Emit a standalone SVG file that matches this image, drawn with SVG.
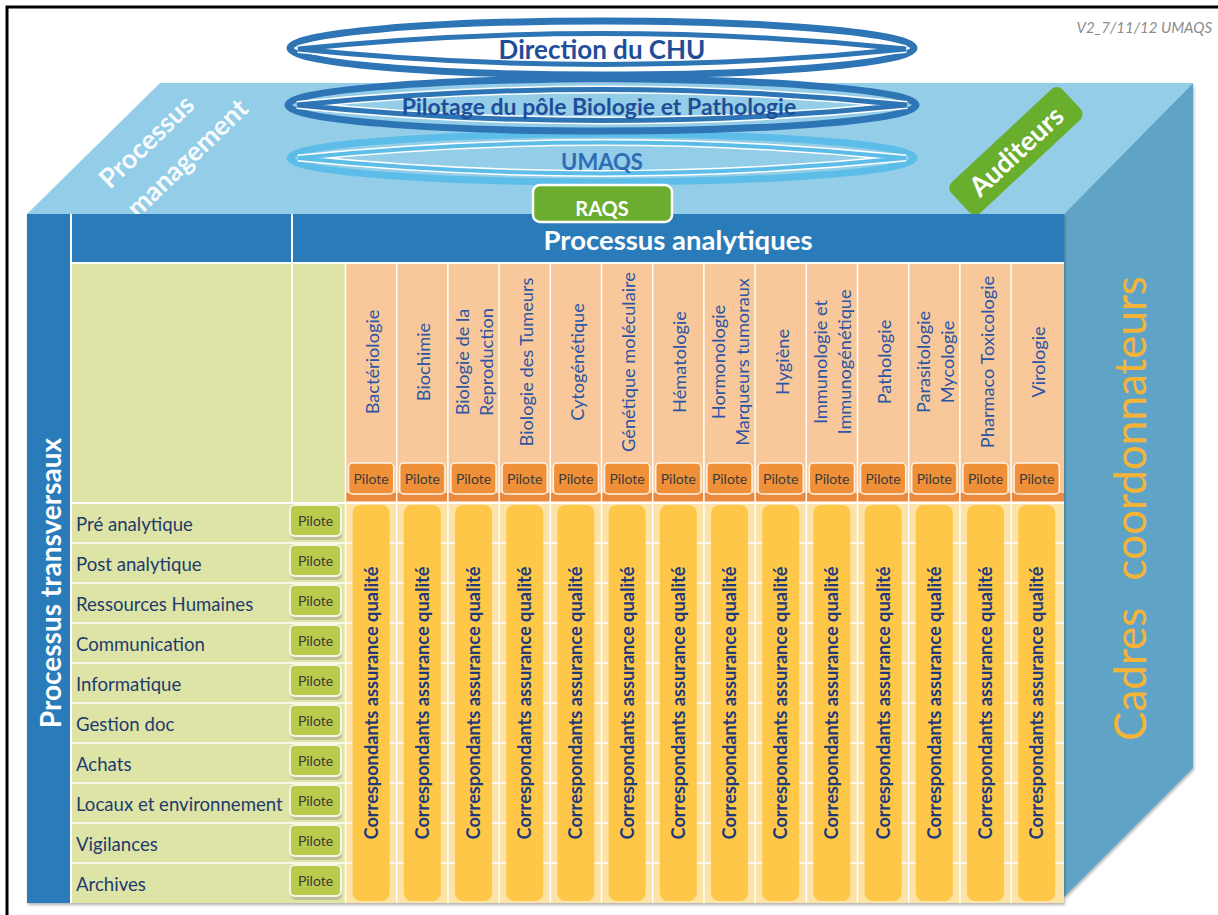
<svg xmlns="http://www.w3.org/2000/svg" width="1218" height="915" viewBox="0 0 1218 915">
<defs>
<style>
text{font-family:Lato,"Open Sans","Liberation Sans",sans-serif}
.frame{stroke:#000;stroke-width:3;fill:none}
.ringD{fill:none;stroke:#2E75B6}
.ringL{fill:none;stroke:#5DBDE9}
.inner{fill:none;stroke:#fff}
.ell{font-weight:bold;fill:#1F4E98;text-anchor:middle}
.hdr{fill:#2A7BBA}
.wl{stroke:#fff;stroke-width:2}
.wl1{stroke:#fff;stroke-width:1.5}
.row{font-size:18.6px;fill:#1F3B6C}
.gp{fill:#BACA4A;stroke:#F6F5E6;stroke-width:2}
.gps{fill:#A9A08A;opacity:.55}
.op{fill:#F0913A;stroke:#FFF3E6;stroke-width:1.5}
.pl{font-size:14px;fill:#3A3A3A;text-anchor:middle}
.col{font-size:18.2px;fill:#2B55A5;text-anchor:middle}
.yc{fill:#FFC748}
.cq{font-size:18.2px;font-weight:bold;fill:#1E3A7B;text-anchor:middle}
</style>
<linearGradient id="ellFill" x1="0" y1="0" x2="0" y2="1">
<stop offset="0" stop-color="#CFE5F3"/><stop offset="0.5" stop-color="#E3F0F9"/><stop offset="1" stop-color="#CFE5F3"/>
</linearGradient>
<filter id="sh" x="-5%" y="-5%" width="110%" height="115%">
<feDropShadow dx="1" dy="2" stdDeviation="1.5" flood-color="#000" flood-opacity="0.3"/>
</filter>
</defs>

<rect width="1218" height="915" fill="#fff"/>
<path class="frame" d="M7,915 V7 H1218"/>

<text x="1212" y="33" font-size="15" font-style="italic" fill="#8C8C8C" text-anchor="end">V2_7/11/12 UMAQS</text>

<!-- cube faces -->
<g id="cube">
<polygon points="27,214 160,83 1193,83 1064,214" fill="#93CDE7"/>
<polygon points="1064,214 1193,83 1193,768 1064,897" fill="#5FA4C6" filter="url(#sh)"/>
<rect x="27" y="214" width="1037" height="689" fill="#fff" filter="url(#sh)"/>
</g>

<!-- management ellipses -->
<g id="umaqs">
<ellipse cx="602" cy="158" rx="312" ry="24" fill="url(#ellFill)" class="ringL" stroke-width="7"/>
<path d="M298,158 A3000 3000 0 0 1 906,158 A3000 3000 0 0 1 298,158 Z" class="inner" stroke-width="7"/>
<path d="M298,158 A3000 3000 0 0 1 906,158 A3000 3000 0 0 1 298,158 Z" class="ringL" stroke-width="4"/>
<text x="602" y="170" font-size="22" class="ell" style="fill:#2E6DB5">UMAQS</text>
</g>
<g id="pilotage">
<ellipse cx="602" cy="105" rx="314" ry="26" fill="url(#ellFill)" class="ringD" stroke-width="7"/>
<path d="M297,105 A3000 3000 0 0 1 907,105 A3000 3000 0 0 1 297,105 Z" class="inner" stroke-width="8"/>
<path d="M297,105 A3000 3000 0 0 1 907,105 A3000 3000 0 0 1 297,105 Z" class="ringD" stroke-width="5"/>
<text x="599" y="115" font-size="23" class="ell">Pilotage du pôle Biologie et Pathologie</text>
</g>
<g id="direction">
<ellipse cx="602" cy="48" rx="312" ry="27" fill="url(#ellFill)" class="ringD" stroke-width="7"/>
<path d="M298,49 A3000 3000 0 0 1 906,49 A3000 3000 0 0 1 298,49 Z" class="inner" stroke-width="8"/>
<path d="M298,49 A3000 3000 0 0 1 906,49 A3000 3000 0 0 1 298,49 Z" class="ringD" stroke-width="5"/>
<text x="602" y="59" font-size="26" class="ell">Direction du CHU</text>
</g>

<g id="processus-management" transform="translate(110,190) rotate(-44)">
<text x="0" y="0" font-size="27" font-weight="bold" fill="#fff" fill-opacity="0.95">Processus</text>
<text x="0" y="40" font-size="27" font-weight="bold" fill="#fff" fill-opacity="0.95">management</text>
</g>

<g id="auditeurs" transform="translate(1016,151) rotate(-43)">
<rect x="-76" y="-21" width="152" height="42" rx="8" fill="#6AAE2D"/>
<text x="0" y="10" font-size="27" font-weight="bold" fill="#fff" text-anchor="middle">Auditeurs</text>
</g>

<g id="cadres">
<text transform="translate(1146,741) rotate(-90)" font-size="44" fill="#F5B437">Cadres <tspan dx="16">coordonnateurs</tspan></text>
</g>

<!-- front grid -->
<g id="front">
<rect x="27" y="214" width="1037" height="49" class="hdr"/>
<rect x="27" y="214" width="44" height="689" class="hdr"/>
<rect x="72" y="264" width="273" height="639" fill="#DDE4A6"/>
<rect x="345" y="264" width="719" height="239" fill="#F8C89B"/>
<rect x="345" y="503" width="719" height="400" fill="#FDE3A8"/>
<rect x="345" y="493" width="719" height="8" fill="#E98A3E"/>
<line class="wl" x1="71" y1="214" x2="71" y2="903"/>
<line class="wl" x1="292" y1="214" x2="292" y2="503"/>
<line class="wl" x1="71" y1="263" x2="1064" y2="263"/>
<line class="wl" x1="72" y1="503" x2="1064" y2="503"/>
<g class="wl1">
<line x1="72" y1="543" x2="1064" y2="543"/><line x1="72" y1="583" x2="1064" y2="583"/>
<line x1="72" y1="623" x2="1064" y2="623"/><line x1="72" y1="663" x2="1064" y2="663"/>
<line x1="72" y1="703" x2="1064" y2="703"/><line x1="72" y1="743" x2="1064" y2="743"/>
<line x1="72" y1="783" x2="1064" y2="783"/><line x1="72" y1="823" x2="1064" y2="823"/>
<line x1="72" y1="863" x2="1064" y2="863"/>
<line x1="345.5" y1="264" x2="345.5" y2="903"/><line x1="396.7" y1="264" x2="396.7" y2="903"/>
<line x1="447.9" y1="264" x2="447.9" y2="903"/><line x1="499.1" y1="264" x2="499.1" y2="903"/>
<line x1="550.3" y1="264" x2="550.3" y2="903"/><line x1="601.5" y1="264" x2="601.5" y2="903"/>
<line x1="652.7" y1="264" x2="652.7" y2="903"/><line x1="703.9" y1="264" x2="703.9" y2="903"/>
<line x1="755.1" y1="264" x2="755.1" y2="903"/><line x1="806.3" y1="264" x2="806.3" y2="903"/>
<line x1="857.5" y1="264" x2="857.5" y2="903"/><line x1="908.7" y1="264" x2="908.7" y2="903"/>
<line x1="959.9" y1="264" x2="959.9" y2="903"/><line x1="1011.1" y1="264" x2="1011.1" y2="903"/>
</g>
<text x="678" y="250" font-size="27.5" font-weight="bold" fill="#fff" text-anchor="middle">Processus analytiques</text>
<text transform="translate(61,583) rotate(-90)" font-size="28" font-weight="bold" fill="#fff" text-anchor="middle">Processus transversaux</text>
</g>

<g id="raqs">
<rect x="533" y="185" width="139" height="37" rx="7" fill="#6BAE2F" stroke="#fff" stroke-width="2.5"/>
<text x="602" y="216" font-size="20" font-weight="bold" fill="#fff" text-anchor="middle">RAQS</text>
</g>

<!-- column headers -->
<g id="col-headers">
<text class="col" transform="translate(371.1,362) rotate(-90)" y="8">Bactériologie</text>
<text class="col" transform="translate(422.3,362) rotate(-90)" y="8">Biochimie</text>
<text class="col" transform="translate(473.5,362) rotate(-90)"><tspan x="0" y="-4.5">Biologie de la</tspan><tspan x="0" y="19.5">Reproduction</tspan></text>
<text class="col" transform="translate(524.7,362) rotate(-90)" y="8">Biologie des  Tumeurs</text>
<text class="col" transform="translate(575.9,362) rotate(-90)" y="8">Cytogénétique</text>
<text class="col" transform="translate(627.1,362) rotate(-90)" y="8">Génétique moléculaire</text>
<text class="col" transform="translate(678.3,362) rotate(-90)" y="8">Hématologie</text>
<text class="col" transform="translate(729.5,362) rotate(-90)"><tspan x="0" y="-4.5">Hormonologie</tspan><tspan x="0" y="19.5">Marqueurs tumoraux</tspan></text>
<text class="col" transform="translate(780.7,362) rotate(-90)" y="8">Hygiène</text>
<text class="col" transform="translate(831.9,362) rotate(-90)"><tspan x="0" y="-4.5">Immunologie et</tspan><tspan x="0" y="19.5">Immunogénétique</tspan></text>
<text class="col" transform="translate(883.1,362) rotate(-90)" y="8">Pathologie</text>
<text class="col" transform="translate(934.3,362) rotate(-90)"><tspan x="0" y="-4.5">Parasitologie</tspan><tspan x="0" y="19.5">Mycologie</tspan></text>
<text class="col" transform="translate(985.5,362) rotate(-90)" y="8">Pharmaco Toxicologie</text>
<text class="col" transform="translate(1036.7,362) rotate(-90)" y="8">Virologie</text>
</g>

<!-- orange pilote boxes -->
<g id="col-pilotes">
<rect class="op" x="348.5" y="463" width="45.2" height="31" rx="4"/><text class="pl" x="371.1" y="484">Pilote</text>
<rect class="op" x="399.7" y="463" width="45.2" height="31" rx="4"/><text class="pl" x="422.3" y="484">Pilote</text>
<rect class="op" x="450.9" y="463" width="45.2" height="31" rx="4"/><text class="pl" x="473.5" y="484">Pilote</text>
<rect class="op" x="502.1" y="463" width="45.2" height="31" rx="4"/><text class="pl" x="524.7" y="484">Pilote</text>
<rect class="op" x="553.3" y="463" width="45.2" height="31" rx="4"/><text class="pl" x="575.9" y="484">Pilote</text>
<rect class="op" x="604.5" y="463" width="45.2" height="31" rx="4"/><text class="pl" x="627.1" y="484">Pilote</text>
<rect class="op" x="655.7" y="463" width="45.2" height="31" rx="4"/><text class="pl" x="678.3" y="484">Pilote</text>
<rect class="op" x="706.9" y="463" width="45.2" height="31" rx="4"/><text class="pl" x="729.5" y="484">Pilote</text>
<rect class="op" x="758.1" y="463" width="45.2" height="31" rx="4"/><text class="pl" x="780.7" y="484">Pilote</text>
<rect class="op" x="809.3" y="463" width="45.2" height="31" rx="4"/><text class="pl" x="831.9" y="484">Pilote</text>
<rect class="op" x="860.5" y="463" width="45.2" height="31" rx="4"/><text class="pl" x="883.1" y="484">Pilote</text>
<rect class="op" x="911.7" y="463" width="45.2" height="31" rx="4"/><text class="pl" x="934.3" y="484">Pilote</text>
<rect class="op" x="962.9" y="463" width="45.2" height="31" rx="4"/><text class="pl" x="985.5" y="484">Pilote</text>
<rect class="op" x="1014.1" y="463" width="45.2" height="31" rx="4"/><text class="pl" x="1036.7" y="484">Pilote</text>
</g>

<!-- correspondants -->
<g id="correspondants">
<rect class="yc" x="352.6" y="505" width="37" height="396" rx="8"/><text class="cq" transform="translate(371.1,703) rotate(-90)" y="6.5">Correspondants assurance qualité</text>
<rect class="yc" x="403.8" y="505" width="37" height="396" rx="8"/><text class="cq" transform="translate(422.3,703) rotate(-90)" y="6.5">Correspondants assurance qualité</text>
<rect class="yc" x="455" y="505" width="37" height="396" rx="8"/><text class="cq" transform="translate(473.5,703) rotate(-90)" y="6.5">Correspondants assurance qualité</text>
<rect class="yc" x="506.2" y="505" width="37" height="396" rx="8"/><text class="cq" transform="translate(524.7,703) rotate(-90)" y="6.5">Correspondants assurance qualité</text>
<rect class="yc" x="557.4" y="505" width="37" height="396" rx="8"/><text class="cq" transform="translate(575.9,703) rotate(-90)" y="6.5">Correspondants assurance qualité</text>
<rect class="yc" x="608.6" y="505" width="37" height="396" rx="8"/><text class="cq" transform="translate(627.1,703) rotate(-90)" y="6.5">Correspondants assurance qualité</text>
<rect class="yc" x="659.8" y="505" width="37" height="396" rx="8"/><text class="cq" transform="translate(678.3,703) rotate(-90)" y="6.5">Correspondants assurance qualité</text>
<rect class="yc" x="711" y="505" width="37" height="396" rx="8"/><text class="cq" transform="translate(729.5,703) rotate(-90)" y="6.5">Correspondants assurance qualité</text>
<rect class="yc" x="762.2" y="505" width="37" height="396" rx="8"/><text class="cq" transform="translate(780.7,703) rotate(-90)" y="6.5">Correspondants assurance qualité</text>
<rect class="yc" x="813.4" y="505" width="37" height="396" rx="8"/><text class="cq" transform="translate(831.9,703) rotate(-90)" y="6.5">Correspondants assurance qualité</text>
<rect class="yc" x="864.6" y="505" width="37" height="396" rx="8"/><text class="cq" transform="translate(883.1,703) rotate(-90)" y="6.5">Correspondants assurance qualité</text>
<rect class="yc" x="915.8" y="505" width="37" height="396" rx="8"/><text class="cq" transform="translate(934.3,703) rotate(-90)" y="6.5">Correspondants assurance qualité</text>
<rect class="yc" x="967" y="505" width="37" height="396" rx="8"/><text class="cq" transform="translate(985.5,703) rotate(-90)" y="6.5">Correspondants assurance qualité</text>
<rect class="yc" x="1018.2" y="505" width="37" height="396" rx="8"/><text class="cq" transform="translate(1036.7,703) rotate(-90)" y="6.5">Correspondants assurance qualité</text>
</g>

<!-- transversal rows -->
<g id="rows">
<text class="row" x="76" y="531">Pré analytique</text>
<text class="row" x="76" y="571">Post analytique</text>
<text class="row" x="76" y="611">Ressources Humaines</text>
<text class="row" x="76" y="651">Communication</text>
<text class="row" x="76" y="691">Informatique</text>
<text class="row" x="76" y="731">Gestion doc</text>
<text class="row" x="76" y="771">Achats</text>
<text class="row" x="76" y="811">Locaux et environnement</text>
<text class="row" x="76" y="851">Vigilances</text>
<text class="row" x="76" y="891">Archives</text>
</g>
<g id="row-pilotes">
<rect class="gps" x="291" y="508" width="51" height="32" rx="5"/><rect class="gp" x="290" y="505" width="51" height="31" rx="5"/><text class="pl" x="315.5" y="525.5">Pilote</text>
<rect class="gps" x="291" y="548" width="51" height="32" rx="5"/><rect class="gp" x="290" y="545" width="51" height="31" rx="5"/><text class="pl" x="315.5" y="565.5">Pilote</text>
<rect class="gps" x="291" y="588" width="51" height="32" rx="5"/><rect class="gp" x="290" y="585" width="51" height="31" rx="5"/><text class="pl" x="315.5" y="605.5">Pilote</text>
<rect class="gps" x="291" y="628" width="51" height="32" rx="5"/><rect class="gp" x="290" y="625" width="51" height="31" rx="5"/><text class="pl" x="315.5" y="645.5">Pilote</text>
<rect class="gps" x="291" y="668" width="51" height="32" rx="5"/><rect class="gp" x="290" y="665" width="51" height="31" rx="5"/><text class="pl" x="315.5" y="685.5">Pilote</text>
<rect class="gps" x="291" y="708" width="51" height="32" rx="5"/><rect class="gp" x="290" y="705" width="51" height="31" rx="5"/><text class="pl" x="315.5" y="725.5">Pilote</text>
<rect class="gps" x="291" y="748" width="51" height="32" rx="5"/><rect class="gp" x="290" y="745" width="51" height="31" rx="5"/><text class="pl" x="315.5" y="765.5">Pilote</text>
<rect class="gps" x="291" y="788" width="51" height="32" rx="5"/><rect class="gp" x="290" y="785" width="51" height="31" rx="5"/><text class="pl" x="315.5" y="805.5">Pilote</text>
<rect class="gps" x="291" y="828" width="51" height="32" rx="5"/><rect class="gp" x="290" y="825" width="51" height="31" rx="5"/><text class="pl" x="315.5" y="845.5">Pilote</text>
<rect class="gps" x="291" y="868" width="51" height="32" rx="5"/><rect class="gp" x="290" y="865" width="51" height="31" rx="5"/><text class="pl" x="315.5" y="885.5">Pilote</text>
</g>
</svg>
